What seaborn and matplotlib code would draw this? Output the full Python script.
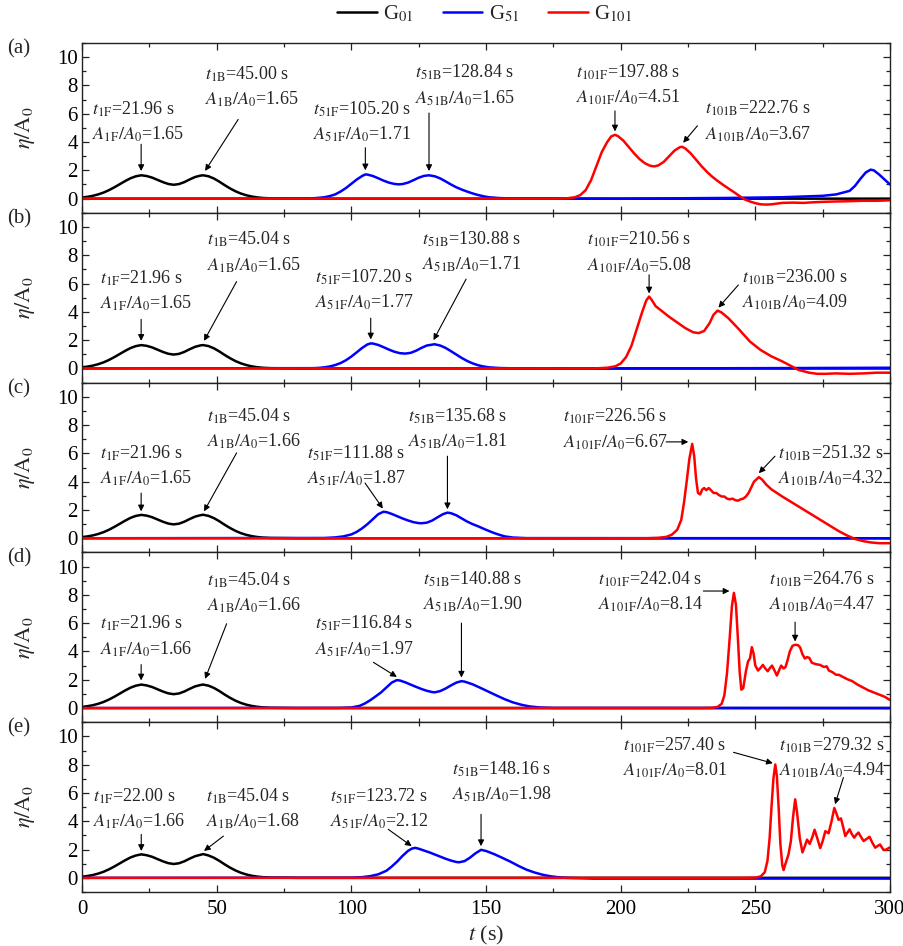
import numpy as np
import pandas as pd
import matplotlib
matplotlib.use("Agg")
import matplotlib.pyplot as plt
from matplotlib.lines import Line2D
from matplotlib.ticker import MultipleLocator
import seaborn as sns

# ---------------- data ----------------
G01_t = [0, 2, 4, 6, 8, 10, 12, 14, 16, 18, 20, 22, 24, 26, 28, 30, 32, 34, 36, 38, 40, 42, 44, 45,
         47, 49, 51, 53, 55, 57, 59, 61, 63, 65, 67, 70, 75, 80, 90, 300]
G01_base = [0.08, 0.13, 0.20, 0.30, 0.43, 0.60, 0.80, 1.02, 1.24, 1.44, 1.58, 1.65, 1.60, 1.49, 1.33, 1.17,
            1.04, 0.98, 1.03, 1.17, 1.36, 1.53, 1.63, 1.65,
            1.58, 1.42, 1.20, 0.95, 0.72, 0.52, 0.36, 0.24, 0.15, 0.09, 0.05, 0.02, 0.01, 0.0, 0.0, 0.0]
G01_peaks = {"a": (1.65, 1.65), "b": (1.65, 1.65), "c": (1.65, 1.66), "d": (1.66, 1.66), "e": (1.66, 1.68)}

G51_a_t = [0, 80, 86, 88, 90, 92, 94, 96, 98, 100, 102, 104, 105.2, 106, 108, 110, 112, 114, 116, 117.5, 119,
           121, 123, 125, 127, 128.84, 131, 133, 135, 137, 139, 141, 143, 145, 147, 149, 151, 155, 160, 200,
           240, 260, 275, 280, 283, 285, 287, 289, 291, 292.8, 294, 296, 298, 300]
G51_a = [0, 0.01, 0.03, 0.06, 0.10, 0.18, 0.30, 0.50, 0.75, 1.05, 1.35, 1.60, 1.71, 1.70, 1.60, 1.44, 1.27, 1.13,
         1.04, 1.01, 1.03, 1.13, 1.30, 1.48, 1.61, 1.65, 1.58, 1.43, 1.22, 1.00, 0.80, 0.64, 0.50, 0.37,
         0.26, 0.17, 0.10, 0.04, 0.01, 0.0, 0.05, 0.10, 0.20, 0.30, 0.45, 0.55, 0.90, 1.40, 1.85, 2.05, 2.00,
         1.70, 1.35, 1.00]

G51_b_t = [0, 86, 88, 90, 92, 94, 96, 98, 100, 102, 104, 106, 107.2, 108, 110, 112, 114, 116, 118, 120, 122,
           124, 126, 128, 130.88, 133, 135, 137, 139, 141, 143, 145, 147, 149, 151, 155, 160, 200, 250, 300]
G51_b = [0, 0.02, 0.04, 0.08, 0.14, 0.24, 0.38, 0.58, 0.84, 1.14, 1.45, 1.70, 1.77, 1.76, 1.66, 1.50, 1.33,
         1.18, 1.08, 1.05, 1.10, 1.25, 1.45, 1.62, 1.71, 1.62, 1.45, 1.22, 0.98, 0.74, 0.53, 0.36, 0.23,
         0.14, 0.08, 0.03, 0.01, 0.0, 0.02, 0.05]

G51_c_t = [0, 90, 94, 97, 100, 102, 104, 106, 108, 110, 111.88, 113, 115, 117, 119, 121, 123, 125, 126, 128,
           130, 132, 134, 135.68, 137, 139, 141, 143, 145, 147, 149, 151, 153, 155, 157, 160, 165, 300]
G51_c = [0, 0.02, 0.06, 0.13, 0.27, 0.45, 0.70, 1.00, 1.35, 1.70, 1.87, 1.85, 1.72, 1.56, 1.40, 1.26, 1.14,
         1.07, 1.06, 1.10, 1.25, 1.48, 1.70, 1.81, 1.77, 1.62, 1.40, 1.18, 1.00, 0.85, 0.68, 0.52, 0.37,
         0.24, 0.13, 0.05, 0.01, 0.0]

G51_d_t = [0, 95, 100, 103, 105, 107, 109, 111, 113, 115, 116.84, 118, 120, 122, 124, 126, 128, 130, 131,
           133, 135, 137, 139, 140.88, 142, 145, 148, 151, 154, 157, 160, 163, 166, 170, 175, 300]
G51_d = [0, 0.01, 0.04, 0.15, 0.32, 0.55, 0.82, 1.10, 1.45, 1.80, 1.97, 1.95, 1.82, 1.66, 1.50, 1.35, 1.22,
         1.13, 1.11, 1.20, 1.38, 1.60, 1.80, 1.90, 1.87, 1.68, 1.42, 1.15, 0.88, 0.62, 0.40, 0.24, 0.12,
         0.04, 0.01, 0.0]

G51_e_t = [0, 100, 104, 107, 110, 113, 115, 117, 119, 121, 122.5, 123.72, 125, 127, 129, 131, 133, 135, 137,
           139, 140, 142, 144, 146, 148.16, 150, 153, 156, 159, 162, 165, 168, 171, 174, 177, 180, 190, 300]
G51_e = [0, 0.01, 0.05, 0.12, 0.25, 0.50, 0.80, 1.15, 1.55, 1.90, 2.07, 2.12, 2.06, 1.93, 1.80, 1.65, 1.50,
         1.35, 1.22, 1.12, 1.10, 1.18, 1.42, 1.72, 1.98, 1.90, 1.68, 1.42, 1.15, 0.85, 0.58, 0.38, 0.22,
         0.11, 0.04, 0.0, -0.05, -0.05]

G101_a_t = [0, 175, 180, 183, 185, 187, 189, 191, 193, 195, 196.5, 197.88, 199, 201, 203, 205, 207, 209, 211,
            212.5, 214, 216, 218, 220, 222, 222.76, 224, 226, 228, 230, 232, 234, 236, 238, 240, 242, 244,
            246, 248, 250, 252, 254, 256, 258, 260, 264, 268, 272, 276, 280, 285, 290, 295, 300]
G101_a = [0, 0.0, 0.02, 0.10, 0.25, 0.60, 1.30, 2.30, 3.30, 4.00, 4.40, 4.51, 4.42, 4.10, 3.65, 3.20, 2.80,
          2.50, 2.32, 2.28, 2.35, 2.60, 3.00, 3.40, 3.64, 3.67, 3.55, 3.20, 2.75, 2.30, 1.90, 1.55, 1.25, 0.98,
          0.72, 0.47, 0.20, -0.05, -0.20, -0.32, -0.40, -0.42, -0.40, -0.35, -0.30, -0.28, -0.30, -0.25,
          -0.22, -0.20, -0.18, -0.15, -0.15, -0.12]

G101_b_t = [0, 190, 195, 198, 200, 202, 204, 206, 208, 209.5, 210.56, 211.5, 213, 215, 218, 221, 224, 227,
            229, 231, 233, 234.5, 236, 237.5, 240, 244, 248, 252, 256, 260, 263, 266, 270, 273, 276, 280, 285,
            290, 295, 300]
G101_b = [0, 0.0, 0.05, 0.15, 0.35, 0.80, 1.60, 2.80, 4.00, 4.80, 5.08, 4.85, 4.40, 4.10, 3.65, 3.25, 2.85,
          2.55, 2.50, 2.65, 3.20, 3.80, 4.09, 3.95, 3.55, 2.75, 1.90, 1.30, 0.85, 0.50, 0.20, -0.10, -0.30,
          -0.38, -0.38, -0.35, -0.38, -0.35, -0.30, -0.30]

G101_c_t = [0, 210, 214, 217, 219, 221, 222.5, 223.5, 224.5, 225.5, 226.56, 227.3, 228, 228.7, 229.5, 230.3,
            231, 231.8, 232.7, 233.5, 234.5, 235.5, 236.5, 237.5, 238.5, 239.5, 240.5, 241.5, 242.5, 243.5,
            244.5, 245.5, 246.5, 247.5, 248.5, 249.5, 251.32, 252.5, 254, 256, 258, 260, 263, 266, 269, 272,
            275, 278, 281, 284, 287, 290, 293, 296, 300]
G101_c = [0, 0.0, 0.03, 0.10, 0.25, 0.60, 1.30, 2.50, 4.00, 5.60, 6.67, 5.80, 4.20, 3.20, 3.10, 3.45, 3.55,
          3.40, 3.55, 3.40, 3.20, 3.20, 3.05, 2.95, 2.95, 2.80, 2.75, 2.80, 2.70, 2.65, 2.75, 2.80, 2.95,
          3.20, 3.60, 4.00, 4.32, 4.15, 3.80, 3.45, 3.20, 2.95, 2.60, 2.25, 1.90, 1.55, 1.20, 0.85, 0.50,
          0.20, -0.05, -0.20, -0.30, -0.35, -0.35]

G101_d_t = [0, 230, 234, 236, 237.5, 238.5, 239.5, 240.5, 241.3, 242.04, 242.8, 243.5, 244.2, 244.8, 245.5,
            246.5, 247.3, 248, 248.7, 249.3, 250, 251, 252, 252.8, 253.7, 254.6, 255.5, 256.2, 257, 258, 259,
            259.6, 260.5, 261.2, 262, 262.8, 263.8, 264.76, 265.8, 266.6, 267.5, 268.4, 269.2, 270, 271,
            272.5, 274, 275.5, 276.5, 277.3, 278.5, 280, 281, 282.5, 284, 286, 288, 290, 292, 294, 296, 298,
            300]
G101_d = [0, 0.0, 0.02, 0.08, 0.30, 0.90, 2.50, 5.00, 7.20, 8.14, 7.30, 5.00, 2.50, 1.30, 1.40, 2.60, 3.30,
          3.50, 4.30, 3.90, 3.00, 2.65, 2.85, 3.05, 2.80, 2.60, 2.85, 3.00, 2.70, 2.30, 2.75, 3.00, 2.80,
          2.90, 3.40, 4.00, 4.40, 4.47, 4.45, 4.30, 3.80, 3.50, 3.60, 3.55, 3.20, 3.10, 3.05, 2.90, 2.95,
          2.65, 2.55, 2.35, 2.35, 2.20, 2.05, 1.90, 1.65, 1.45, 1.25, 1.10, 0.95, 0.80, 0.57]

G101_e_t = [0, 245, 250, 252, 253.5, 254.5, 255.3, 256, 256.7, 257.4, 258, 258.7, 259.3, 260, 260.5, 261.2,
            262.3, 263.2, 264, 264.8, 265.5, 266.5, 267.5, 268.3, 269.2, 270.2, 271.2, 272, 273, 274.1, 275,
            276, 277.2, 278.3, 279.32, 280.2, 280.9, 281.8, 282.6, 283.4, 284.2, 285, 285.8, 286.7, 287.5,
            288.3, 289.2, 290.2, 291.3, 292.4, 293.4, 294.5, 295.4, 296.3, 297, 297.6, 298.6, 299.7, 300]
G101_e = [0, 0.0, 0.02, 0.10, 0.40, 1.20, 2.80, 5.00, 7.00, 8.01, 7.20, 4.80, 2.40, 0.90, 0.55, 1.00, 1.65,
          2.60, 4.30, 5.55, 4.60, 2.80, 1.80, 2.20, 2.70, 2.40, 2.90, 3.40, 2.80, 2.10, 2.60, 3.30, 3.15,
          4.00, 4.94, 4.50, 4.10, 4.20, 3.60, 2.95, 3.20, 3.43, 3.10, 2.84, 3.05, 3.20, 2.90, 2.60, 2.75,
          2.90, 2.50, 2.13, 2.25, 2.36, 2.15, 1.97, 2.00, 2.13, 2.13]

PANELS = ["a", "b", "c", "d", "e"]
G51 = {"a": (G51_a_t, G51_a), "b": (G51_b_t, G51_b), "c": (G51_c_t, G51_c),
       "d": (G51_d_t, G51_d), "e": (G51_e_t, G51_e)}
G101 = {"a": (G101_a_t, G101_a), "b": (G101_b_t, G101_b), "c": (G101_c_t, G101_c),
        "d": (G101_d_t, G101_d), "e": (G101_e_t, G101_e)}

# peak annotations: (key, time, amplitude)
PEAKS = {
    "a": [("1F", 21.96, 1.65), ("1B", 45.00, 1.65), ("51F", 105.20, 1.71), ("51B", 128.84, 1.65),
          ("101F", 197.88, 4.51), ("101B", 222.76, 3.67)],
    "b": [("1F", 21.96, 1.65), ("1B", 45.04, 1.65), ("51F", 107.20, 1.77), ("51B", 130.88, 1.71),
          ("101F", 210.56, 5.08), ("101B", 236.00, 4.09)],
    "c": [("1F", 21.96, 1.65), ("1B", 45.04, 1.66), ("51F", 111.88, 1.87), ("51B", 135.68, 1.81),
          ("101F", 226.56, 6.67), ("101B", 251.32, 4.32)],
    "d": [("1F", 21.96, 1.66), ("1B", 45.04, 1.66), ("51F", 116.84, 1.97), ("51B", 140.88, 1.90),
          ("101F", 242.04, 8.14), ("101B", 264.76, 4.47)],
    "e": [("1F", 22.00, 1.66), ("1B", 45.04, 1.68), ("51F", 123.72, 2.12), ("51B", 148.16, 1.98),
          ("101F", 257.40, 8.01), ("101B", 279.32, 4.94)],
}
LEGEND_LABELS = ["G$_{01}$", "G$_{51}$", "G$_{101}$"]

# ---------------- layout (text x, line1 y, line2 y, arrow start, arrow tip) ----------------
LAYOUT = {
    "a": [(3.6, 6.33, 4.56, (21.96, 3.84), (21.96, 1.95)),
          (45.7, 8.8, 7.04, (58.0, 5.6), (45.7, 1.96)),
          (85.9, 6.33, 4.56, (105.2, 3.6), (105.2, 2.0)),
          (123.7, 8.93, 7.07, (128.84, 6.05), (128.84, 1.95)),
          (183.4, 8.93, 7.16, (197.88, 6.2), (197.88, 4.75)),
          (231.3, 6.4, 4.56, (228.5, 5.15), (223.2, 3.95))],
    "b": [(6.7, 6.38, 4.6, (21.96, 3.47), (21.96, 1.95)),
          (46.3, 9.1, 7.26, (57.4, 6.14), (45.3, 1.95)),
          (86.5, 6.45, 4.65, (107.2, 3.55), (107.2, 2.05)),
          (126.1, 9.1, 7.33, (142.6, 6.31), (130.5, 2.0)),
          (187.4, 9.1, 7.26, (210.56, 6.62), (210.56, 5.3)),
          (245.0, 6.45, 4.65, (243.7, 5.9), (236.3, 4.3))],
    "c": [(6.7, 6.03, 4.26, (21.96, 3.19), (21.96, 1.9)),
          (46.3, 8.63, 6.86, (57.4, 6.03), (45.3, 1.9)),
          (83.4, 6.03, 4.26, (105.1, 3.9), (111.7, 2.1)),
          (121.2, 8.63, 6.86, (135.68, 5.8), (135.68, 2.05)),
          (178.7, 8.63, 6.81, (216.9, 6.81), (225.1, 6.81)),
          (258.6, 6.03, 4.21, (257.3, 5.8), (251.3, 4.6))],
    "d": [(6.7, 6.0, 4.18, (21.96, 3.07), (21.96, 1.95)),
          (46.3, 9.03, 7.26, (53.7, 5.96), (45.7, 2.06)),
          (86.5, 6.0, 4.18, (108.2, 3.23), (116.9, 2.2)),
          (126.7, 9.08, 7.33, (140.88, 6.0), (140.88, 2.15)),
          (191.7, 9.08, 7.33, (230.7, 8.27), (240.4, 8.27)),
          (255.2, 9.08, 7.33, (264.76, 6.07), (264.76, 4.7))],
    "e": [(3.9, 5.79, 4.01, (22.0, 3.07), (22.0, 1.9)),
          (46.0, 5.79, 4.01, (52.5, 2.95), (45.3, 1.9)),
          (92.1, 5.79, 4.01, (113.7, 3.43), (122.4, 2.24)),
          (137.4, 7.68, 5.91, (148.16, 4.49), (148.16, 2.24)),
          (201.0, 9.38, 7.63, (241.9, 8.87), (256.5, 8.1)),
          (258.9, 9.38, 7.63, (282.7, 7.09), (279.6, 5.2))],
}

# ---------------- style ----------------
sns.set_theme(style="ticks")
plt.rcParams["font.family"] = ["Liberation Serif", "DejaVu Serif"]
plt.rcParams["mathtext.fontset"] = "stix"
plt.rcParams["axes.linewidth"] = 1.0
plt.rcParams["xtick.direction"] = "in"
plt.rcParams["ytick.direction"] = "in"

COLORS = {"G01": "#000000", "G51": "#0000ff", "G101": "#ff0000"}
LW = 1.8
FS = 13          # annotation text
FS_TICK = 15
FS_LAB = 16

W, H = 904, 946
fig = plt.figure(figsize=(W / 100, H / 100), dpi=100)
left_px, right_px = 82, 890
top_px, bot_px = 43, 892
ph = (bot_px - top_px) / 5.0

for i, p in enumerate(PANELS):
    ax = fig.add_axes([left_px / W, (H - (top_px + (i + 1) * ph)) / H, (right_px - left_px) / W, ph / H])

    b1, b2 = G01_peaks[p]
    g01 = list(G01_base)
    g01[G01_t.index(22)] = b1
    g01[G01_t.index(45)] = b2
    df01 = pd.DataFrame({"t": G01_t, "eta": g01})
    df51 = pd.DataFrame({"t": G51[p][0], "eta": G51[p][1]})
    df101 = pd.DataFrame({"t": G101[p][0], "eta": G101[p][1]})
    sns.lineplot(data=df01, x="t", y="eta", ax=ax, color=COLORS["G01"], lw=LW, estimator=None, sort=False)
    sns.lineplot(data=df51, x="t", y="eta", ax=ax, color=COLORS["G51"], lw=LW, estimator=None, sort=False)
    sns.lineplot(data=df101, x="t", y="eta", ax=ax, color=COLORS["G101"], lw=LW, estimator=None, sort=False)

    ax.set_xlim(0, 300)
    ax.set_ylim(-1, 11)
    ax.xaxis.set_major_locator(MultipleLocator(50))
    ax.xaxis.set_minor_locator(MultipleLocator(25))
    ax.yaxis.set_major_locator(MultipleLocator(2))
    ax.yaxis.set_minor_locator(MultipleLocator(1))
    ax.tick_params(which="both", top=True, right=True, direction="in", width=0.9, colors="#222222")
    ax.tick_params(which="major", length=5)
    ax.tick_params(which="minor", length=3)
    ax.tick_params(axis="y", labelsize=FS_TICK, pad=3, labelcolor="black")
    ax.tick_params(axis="x", labelsize=FS_TICK, pad=6, labelcolor="black")
    for s in ax.spines.values():
        s.set_color("#222222")
    ax.set_ylabel(r"$\eta/\mathrm{A}_0$", fontsize=FS_LAB)
    ax.yaxis.set_label_coords(-0.056, 0.5)
    if i < 4:
        ax.set_xlabel("")
        ax.tick_params(axis="x", labelbottom=False)
    else:
        ax.set_xlabel(r"$t$ (s)", fontsize=FS_LAB)
        ax.xaxis.set_label_coords(0.5, -0.19)

    ax.text(-0.093, 0.965, f"({p})", transform=ax.transAxes, fontsize=FS_TICK, ha="left", va="center")

    for (key, tp, amp), (tx, y1, y2, a0, a1) in zip(PEAKS[p], LAYOUT[p]):
        ax.text(tx, y1, rf"$t_{{\mathrm{{{key}}}}}$={tp:.2f} s", fontsize=FS, ha="left", va="center")
        ax.text(tx, y2, rf"$A_{{\mathrm{{{key}}}}}/A_0$={amp:.2f}", fontsize=FS, ha="left", va="center")
        ax.annotate("", xy=a1, xytext=a0,
                    arrowprops=dict(arrowstyle="-|>", color="black", lw=0.8,
                                    mutation_scale=9, shrinkA=0, shrinkB=0))

handles = [Line2D([], [], color=COLORS[k], lw=LW) for k in ["G01", "G51", "G101"]]
fig.legend(handles, LEGEND_LABELS, loc="center", bbox_to_anchor=(0.536, 0.985), ncol=3, frameon=False,
           fontsize=FS_TICK, handlelength=1.9, handletextpad=0.3, columnspacing=1.4)

fig.savefig("out.png", dpi=100)
